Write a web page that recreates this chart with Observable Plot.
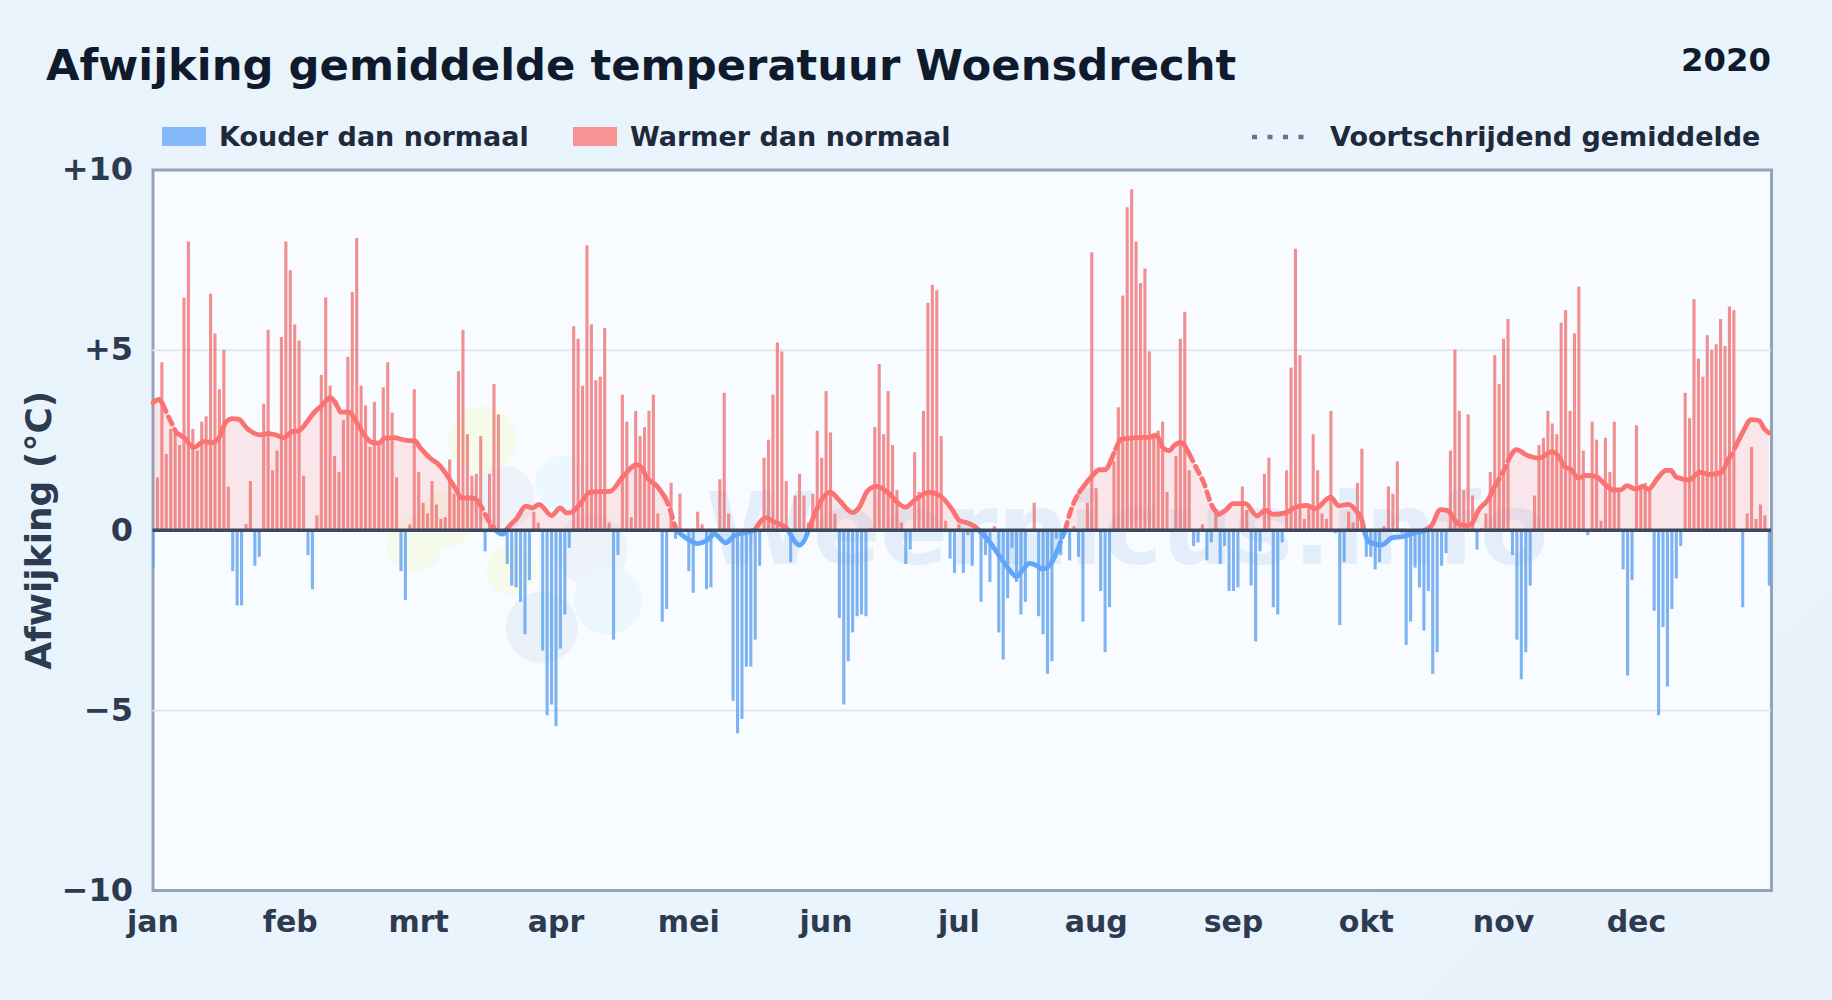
<!DOCTYPE html>
<html lang="nl">
<head>
<meta charset="utf-8">
<script src="https://cdn.jsdelivr.net/npm/d3@7"></script>
<script src="https://cdn.jsdelivr.net/npm/@observablehq/plot@0.6"></script>
<style>
html,body{margin:0;padding:0;background:#e9f3fc;}
body{font-family:"DejaVu Sans",sans-serif;font-weight:700;}
#page{position:relative;width:1832px;height:1000px;overflow:hidden;background:linear-gradient(135deg,#e9f3fc,#eaf4fd 50%,#e8f2fb);}
#title{position:absolute;left:46px;top:36px;font-size:43.3px;line-height:58px;color:#0f1b2d;white-space:nowrap;}
#year{position:absolute;right:61px;top:38px;font-size:32.3px;line-height:44px;color:#0f1b2d;}
.lg{position:absolute;top:120px;font-size:27px;line-height:34px;color:#1e293b;white-space:nowrap;}
.sw{position:absolute;top:127px;height:19px;width:44px;}
#chart{position:absolute;left:0;top:150px;}
</style>
</head>
<body>
<div id="page">
  <div id="title">Afwijking gemiddelde temperatuur Woensdrecht</div>
  <div id="year">2020</div>
  <div class="sw" style="left:162px;background:#85b8fb"></div>
  <div class="lg" style="left:219px">Kouder dan normaal</div>
  <div class="sw" style="left:573px;background:#f99292"></div>
  <div class="lg" style="left:630px">Warmer dan normaal</div>
  <svg style="position:absolute;left:1251px;top:132px" width="60" height="10"><line x1="1" y1="5" x2="59" y2="5" stroke="#64748b" stroke-width="4.5" stroke-dasharray="5 10.5"/></svg>
  <div class="lg" style="left:1330px">Voortschrijdend gemiddelde</div>
  <div id="chart"></div>
</div>
<script>
const jan=[-1.05,1.45,4.65,2.1,2.8,2.7,2.35,6.45,8.0,2.8,2.2,3.0,3.15,6.55,5.45,3.9,5.0,1.2,-1.15,-2.1,-2.1,.15,1.35,-1.0,-.75,3.5,5.55,1.65,2.2,5.35,8.0];
const feb=[7.2,5.7,5.25,1.5,-.7,-1.65,.4,4.3,6.45,4.0,2.05,1.6,3.05,4.8,6.6,8.1,4.0,3.45,2.3,3.55,2.4,3.95,4.65,3.25,1.45,-1.15,-1.95,.15,3.9];
const mrt=[1.6,.75,.45,1.35,.7,.3,.35,1.95,1.0,4.4,5.55,2.65,1.5,1.55,2.6,-.6,1.55,4.05,3.2,-.1,-.95,-1.55,-1.6,-2.0,-2.9,-1.4,.5,.2,-3.35,-5.15,-4.85];
const apr=[-5.45,-3.3,-2.35,-.5,5.65,5.3,4.0,7.9,5.7,4.15,4.25,5.6,.2,-3.05,-.7,3.75,3.0,.35,3.3,2.6,2.85,3.3,3.75,.45,-2.55,-2.2,1.3,-.25,1.0,-.05];
const mei=[-1.15,-1.75,.5,.15,-1.65,-1.6,0,1.4,3.8,.45,-4.75,-5.65,-5.25,-3.8,-3.8,-3.05,-1.0,2.0,2.5,3.75,5.2,4.95,1.35,-.9,.95,1.55,.95,.2,1.0,2.75,2.0];
const jun=[3.85,2.7,.45,-2.45,-4.85,-3.65,-2.85,-2.4,-2.35,-2.4,.05,2.85,4.6,2.65,3.85,2.35,1.1,.2,-.95,-.55,2.15,1.05,3.3,6.3,6.8,6.65,2.6,.25,-.8,-1.2];
const jul=[.15,-1.2,-.15,-1.0,-.05,-2.0,-.7,-1.45,.1,-2.85,-3.6,-1.9,-.5,-1.45,-2.35,-2.0,0,.75,-2.4,-2.9,-4.0,-3.65,-.25,-.7,0,-.85,.1,-.75,-2.55,.75,7.7];
const aug=[1.15,-1.7,-3.4,-2.15,1.9,3.4,6.5,8.95,9.45,8.0,6.85,7.25,4.95,2.6,2.75,3.0,1.05,0,2.05,5.3,6.05,1.65,-.45,-.35,.15,-.85,-.35,.5,-.95,-.45,-1.7];
const sep=[-1.7,-1.6,1.2,.55,-1.55,-3.1,-.6,1.55,2.0,-2.15,-2.35,-.35,1.65,4.5,7.8,4.85,.3,.7,2.65,1.65,.45,.3,3.3,-.1,-2.65,-.9,.5,.2,1.3,2.25];
const okt=[-.75,-.75,-1.1,-.9,.1,1.2,1.0,1.9,-.1,-3.2,-2.55,-1.05,-1.6,-2.8,-1.7,-4.0,-3.4,-1.0,-.65,2.2,5.0,3.3,1.1,3.2,.95,-.55,.05,.45,1.6,4.85,4.05];
const nov=[5.3,5.85,-.7,-3.05,-4.15,-3.4,-1.55,.95,2.35,2.55,3.3,2.95,2.65,5.75,6.1,3.3,5.45,6.75,2.2,-.15,3.0,2.5,.25,2.55,1.6,3.0,1.1,-1.1,-4.05,-1.4];
const dec=[2.9,1.2,1.3,1.15,-2.25,-5.15,-2.7,-4.35,-2.2,-1.35,-.45,3.8,3.1,6.4,4.75,4.25,5.4,5.0,5.15,5.85,5.1,6.2,6.1,0,-2.15,.45,2.3,.3,.7,.4,-1.55];

const rollDay=[0,1.3,2.2,3.3,4.3,5.3,7,9.2,11.5,13.3,14.9,16.4,17.9,19.4,21.2,24.2,25.8,27.6,29.5,31.4,32.9,34.8,36.3,38.2,40,41.2,42.3,44.3,46,47.6,49.4,51,52.4,54.3,57,59.2,60.3,62.6,64.8,66.7,68.2,69.7,72.4,73.5,74.6,75.7,76.9,77.4,78,79.1,79.7,80,82.1,84.2,85.7,87.2,90,92,93.4,94.5,96.4,98.7,103.2,106.2,109.2,110.3,111.5,113.7,115.6,116.7,117.7,118.2,119,121.8,122.9,125,126.8,129.3,131.4,134.4,135.9,138.5,140,143,143.5,146,147.7,148,149,150.9,152.9,155,158,159.5,161.4,163.4,166.3,168.2,169.9,172.3,175.3,177.9,180.6,182,184,185.9,186.5,188.9,191.5,193.4,195,196.4,197.9,199.4,200.9,202.8,204.3,205.4,206,206.9,208,209.2,212.2,213.7,215,216.3,217.4,218.7,223.5,225,226.5,227.2,228,229.5,230.6,232,234,235.9,237.4,238.9,240.7,242.2,243.9,246.7,249.3,251.2,253,255.7,258,260.6,262.5,265.9,267.8,269.9,271.9,273,273.5,274.5,277.5,279.8,282,285,286.6,287.3,288.8,290.7,292.2,294.8,296.7,297.8,299.3,301.6,303.1,304,305.2,306.2,307.9,310,313,315.9,317.3,318.8,320.3,321.8,323.6,325.9,327.8,329.7,331.5,332.8,334.8,336.4,337.7,339.8,341.7,342.8,344,347,349.2,351.5,354.1,355.6,357.5,359,360.9,362.7,363.9,365];
const rollVal=[3.54,3.63,3.5,3.2,2.95,2.7,2.57,2.3,2.46,2.43,2.57,2.99,3.1,3.08,2.83,2.65,2.68,2.65,2.57,2.74,2.76,3.01,3.26,3.47,3.68,3.54,3.28,3.28,2.99,2.67,2.44,2.42,2.56,2.57,2.5,2.48,2.3,2.0,1.79,1.47,1.18,.9,.89,.78,.55,.28,.07,0,-.06,-.11,0,.05,.32,.67,.62,.72,.41,.62,.48,.5,.72,1.06,1.08,1.5,1.82,1.75,1.47,1.24,.92,.6,.18,0,-.09,-.32,-.37,-.29,-.11,-.35,-.14,-.05,0,.35,.25,.06,0,-.41,-.11,0,.32,.83,1.06,.83,.49,.64,1.1,1.22,1.01,.76,.64,.87,1.05,.94,.55,.28,.2,.07,0,-.32,-.78,-1.1,-1.29,-1.1,-.92,-.97,-1.08,-.92,-.55,-.18,0,.41,.78,1.06,1.52,1.68,1.68,1.93,2.26,2.53,2.58,2.58,2.64,2.53,2.3,2.21,2.35,2.44,2.12,1.66,1.29,.74,.44,.55,.74,.74,.4,.55,.44,.48,.64,.69,.6,.92,.68,.72,.51,.28,0,-.32,-.41,-.21,-.18,-.07,-.03,0,.14,.57,.55,.18,.13,.18,.55,.87,1.24,1.43,1.7,1.98,2.24,2.1,2.0,2.18,2.07,1.77,1.68,1.45,1.52,1.49,1.29,1.12,1.12,1.24,1.14,1.22,1.14,1.45,1.66,1.66,1.47,1.4,1.61,1.55,1.6,1.93,2.35,2.72,3.07,3.04,2.81,2.7];
const dashedFrom=[2.5,41,74,115.5,204,216.5,234.5,303.5,355.5];
const dashedTo=[5,43,77,118,209.5,217.5,240,306.5,358];

const monthStart=[0,31,60,91,121,152,182,213,244,274,305,335];
const monthName=["jan","feb","mrt","apr","mei","jun","jul","aug","sep","okt","nov","dec"];
const yTicks=[-10,-5,0,5,10];
const yTickText=["\u221210","\u22125","0","+5","+10"];

const blobDay=[74.4,59,66,81,92.6,79,87.8,102.7,99];
const blobVal=[2.5,-.4,.3,-1.1,1.3,.9,-2.7,-1.95,-.55];
const blobR=[34,28,28,25,28,32,36,34,36];
const blobCol=["#f5faeb","#f5faeb","#f5faeb","#f5faeb","#edf7ff","#eef3fa","#eaf1f9","#ebf6ff","#eef3fa"];
const markName="Weernicus.info";

const anomaly=[...jan,...feb,...mrt,...apr,...mei,...jun,...jul,...aug,...sep,...okt,...nov,...dec];
const bars=anomaly.map((v,d)=>({d,v}));
const isDashed=x=>dashedFrom.some((a,i)=>x>=a&&x<=dashedTo[i]);

// split the rolling mean into runs of one colour and one dash style
const segs=[];
for(let i=0;i<rollDay.length-1;i++){
  const neg=rollVal[i]+rollVal[i+1]<0, dash=isDashed((rollDay[i]+rollDay[i+1])/2);
  let s=segs[segs.length-1];
  if(!s||s.neg!==neg||s.dash!==dash){s={neg,dash,pts:[{d:rollDay[i],v:rollVal[i]}]};segs.push(s);}
  s.pts.push({d:rollDay[i+1],v:rollVal[i+1]});
}
const rows=f=>segs.flatMap((s,k)=>f(s)?s.pts.map(p=>({...p,seg:k})):[]);
const RED="#fb7272", BLUE="#60a5fa";
const lineOpt={x:"d",y:"v",z:"seg",strokeWidth:4.8,curve:"monotone-x",strokeLinejoin:"round"};
const areaOpt={x:"d",y1:()=>0,y2:"v",z:"seg",fillOpacity:.15,curve:"monotone-x"};
const blobs=blobDay.map((d,i)=>({d,v:blobVal[i],r:blobR[i],c:blobCol[i]}));

const plot=Plot.plot({
  width:1832,height:800,
  marginLeft:152.5,marginRight:61,marginTop:19.5,marginBottom:60,
  style:{background:"transparent",fontFamily:"'DejaVu Sans',sans-serif",fontWeight:700,overflow:"visible"},
  x:{domain:[0,365.5]},
  y:{domain:[-10,10]},
  r:{type:"identity"},
  marks:[
    Plot.frame({fill:"#f8fbff",stroke:"#94a3b8",strokeWidth:3}),
    Plot.dot(blobs,{x:"d",y:"v",r:"r",fill:"c"}),
    Plot.text([markName],{x:()=>220,y:()=>-.05,fontSize:100,fill:"#c8dcf3",fillOpacity:.42,fontFamily:"'DejaVu Sans',sans-serif",fontWeight:700,textAnchor:"middle"}),
    Plot.ruleY([5,-5],{stroke:"#e2e8f0",strokeWidth:2}),
    Plot.areaY(rows(s=>!s.neg),{...areaOpt,fill:"#f87171"}),
    Plot.areaY(rows(s=>s.neg),{...areaOpt,fill:BLUE}),
    Plot.ruleX(bars.filter(b=>b.v>0),{x:"d",y1:()=>0,y2:"v",stroke:"#ef6b6b",strokeOpacity:.75,strokeWidth:3.1,clip:"frame"}),
    Plot.ruleX(bars.filter(b=>b.v<0),{x:"d",y1:()=>0,y2:"v",stroke:"#5a9fee",strokeOpacity:.78,strokeWidth:3.1,clip:"frame"}),
    Plot.line(rows(s=>!s.neg&&!s.dash),{...lineOpt,stroke:RED}),
    Plot.line(rows(s=>!s.neg&&s.dash),{...lineOpt,stroke:RED,strokeDasharray:"8 6"}),
    Plot.line(rows(s=>s.neg&&!s.dash),{...lineOpt,stroke:BLUE}),
    Plot.line(rows(s=>s.neg&&s.dash),{...lineOpt,stroke:BLUE,strokeDasharray:"8 6"}),
    Plot.ruleY([0],{stroke:"#3d4a5e",strokeWidth:3.5}),
    Plot.axisY({ticks:yTicks,tickFormat:v=>yTickText[yTicks.indexOf(v)],tickSize:0,tickPadding:20,fontSize:32,color:"#2d3b50",label:null}),
    Plot.axisY({ticks:[],tickSize:0,fontSize:36,color:"#2d3b50",
      label:"Afwijking (\u00b0C)",labelAnchor:"center",labelArrow:"none",labelOffset:128}),
    Plot.axisX({ticks:monthStart,tickFormat:v=>monthName[monthStart.indexOf(v)],tickSize:0,tickPadding:20,fontSize:30,color:"#2d3b50",label:null})
  ]
});
document.getElementById("chart").append(plot);
</script>
</body>
</html>
